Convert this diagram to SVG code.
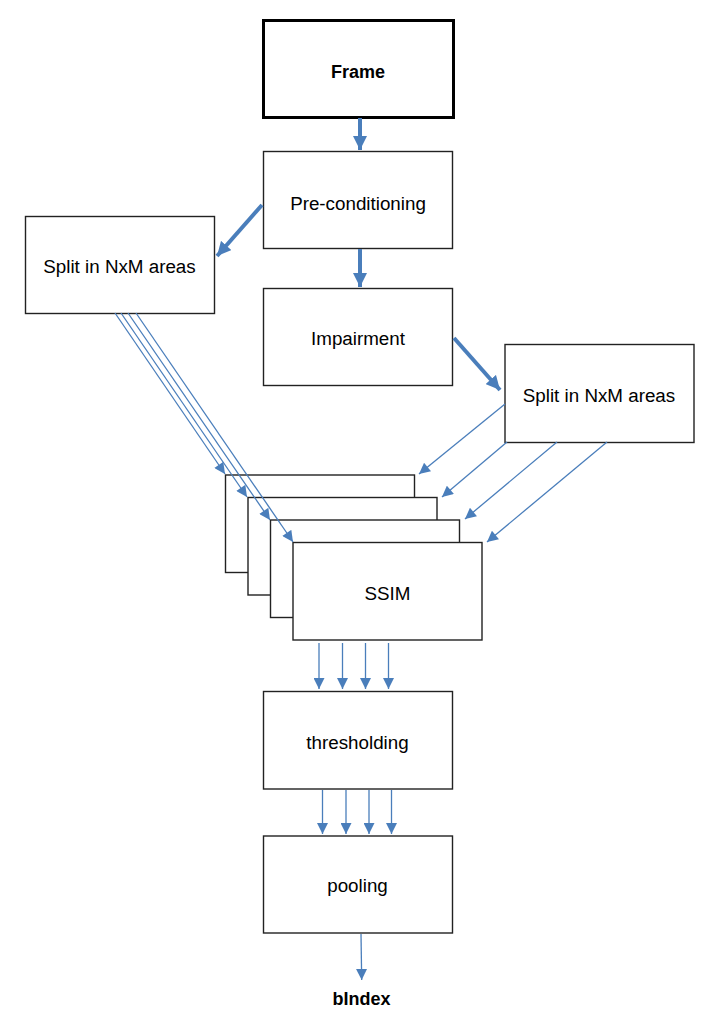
<svg xmlns="http://www.w3.org/2000/svg" width="716" height="1032" viewBox="0 0 716 1032">
<defs>
<style>
.box{fill:#fff;stroke:#222;stroke-width:1.4}
.frame{fill:#fff;stroke:#000;stroke-width:3}
.lbl{font-family:"Liberation Sans",Arial,sans-serif;font-size:18.8px;fill:#000;text-anchor:middle}
.bold{font-weight:bold;font-size:18px}
.thick{stroke:#4a7ebb;stroke-width:4;fill:none}
.thin{stroke:#4a7ebb;stroke-width:1.3;fill:none}
</style>
<marker id="ah" viewBox="0 0 10 10" refX="10" refY="5" markerUnits="userSpaceOnUse" markerWidth="12" markerHeight="11" orient="auto">
<path d="M0,0 L10,5 L0,10 z" fill="#4a7ebb"/>
</marker>
<marker id="ahT" viewBox="0 0 10 10" refX="10" refY="5" markerUnits="userSpaceOnUse" markerWidth="14" markerHeight="14" orient="auto">
<path d="M0,0 L10,5 L0,10 z" fill="#4a7ebb"/>
</marker>
</defs>
<rect width="716" height="1032" fill="#fff"/>
<g id="frame"><rect class="frame" x="263.5" y="20.5" width="190" height="97"/><text class="lbl bold" x="358" y="78">Frame</text></g>
<g id="precond"><rect class="box" x="263.5" y="151.5" width="189" height="97"/><text class="lbl" x="358" y="209.5">Pre-conditioning</text></g>
<g id="splitL"><rect class="box" x="25.5" y="216.5" width="189" height="97"/><text class="lbl" x="119.5" y="273">Split in NxM areas</text></g>
<g id="impair"><rect class="box" x="263.5" y="288.5" width="189" height="97"/><text class="lbl" x="358" y="345">Impairment</text></g>
<g id="splitR"><rect class="box" x="505" y="344.5" width="189" height="98"/><text class="lbl" x="599" y="402">Split in NxM areas</text></g>
<g id="ssim1"><rect class="box" x="225.5" y="475" width="189" height="97.5"/></g>
<g id="ssim2"><rect class="box" x="248" y="497.5" width="189" height="97.5"/></g>
<g id="ssim3"><rect class="box" x="270.5" y="520" width="189" height="97.5"/></g>
<g id="ssim4"><rect class="box" x="293" y="542.5" width="189" height="97.5"/><text class="lbl" x="387.5" y="600">SSIM</text></g>
<g id="thresh"><rect class="box" x="263.5" y="691.5" width="189" height="97.5"/><text class="lbl" x="357.5" y="749">thresholding</text></g>
<g id="pool"><rect class="box" x="263.5" y="836" width="189" height="97"/><text class="lbl" x="357.5" y="892">pooling</text></g>
<g id="bindex"><text class="lbl bold" x="361.5" y="1005">bIndex</text></g>
<g id="connectors">
<line class="thick" x1="360" y1="118" x2="360" y2="150" marker-end="url(#ahT)"/>
<line class="thick" x1="262" y1="205" x2="217" y2="256" marker-end="url(#ahT)"/>
<line class="thick" x1="360" y1="249" x2="360" y2="287" marker-end="url(#ahT)"/>
<line class="thick" x1="454" y1="338" x2="500" y2="390" marker-end="url(#ahT)"/>
<line class="thin" x1="115" y1="313" x2="225" y2="474" marker-end="url(#ah)"/>
<line class="thin" x1="121" y1="313" x2="247" y2="497" marker-end="url(#ah)"/>
<line class="thin" x1="128" y1="313" x2="270" y2="520" marker-end="url(#ah)"/>
<line class="thin" x1="136" y1="313" x2="293" y2="542" marker-end="url(#ah)"/>
<line class="thin" x1="505" y1="404" x2="419" y2="474" marker-end="url(#ah)"/>
<line class="thin" x1="507" y1="442" x2="442" y2="497" marker-end="url(#ah)"/>
<line class="thin" x1="557" y1="442" x2="465" y2="519" marker-end="url(#ah)"/>
<line class="thin" x1="607" y1="442" x2="487" y2="542" marker-end="url(#ah)"/>
<line class="thin" x1="319" y1="643" x2="319" y2="689" marker-end="url(#ah)"/>
<line class="thin" x1="342.5" y1="643" x2="342.5" y2="689" marker-end="url(#ah)"/>
<line class="thin" x1="365.5" y1="643" x2="365.5" y2="689" marker-end="url(#ah)"/>
<line class="thin" x1="388.5" y1="643" x2="388.5" y2="689" marker-end="url(#ah)"/>
<line class="thin" x1="322.5" y1="790" x2="322.5" y2="834" marker-end="url(#ah)"/>
<line class="thin" x1="346" y1="790" x2="346" y2="834" marker-end="url(#ah)"/>
<line class="thin" x1="369" y1="790" x2="369" y2="834" marker-end="url(#ah)"/>
<line class="thin" x1="391.5" y1="790" x2="391.5" y2="834" marker-end="url(#ah)"/>
<line class="thin" x1="361" y1="934" x2="361.7" y2="980" marker-end="url(#ah)"/>
</g>
</svg>
